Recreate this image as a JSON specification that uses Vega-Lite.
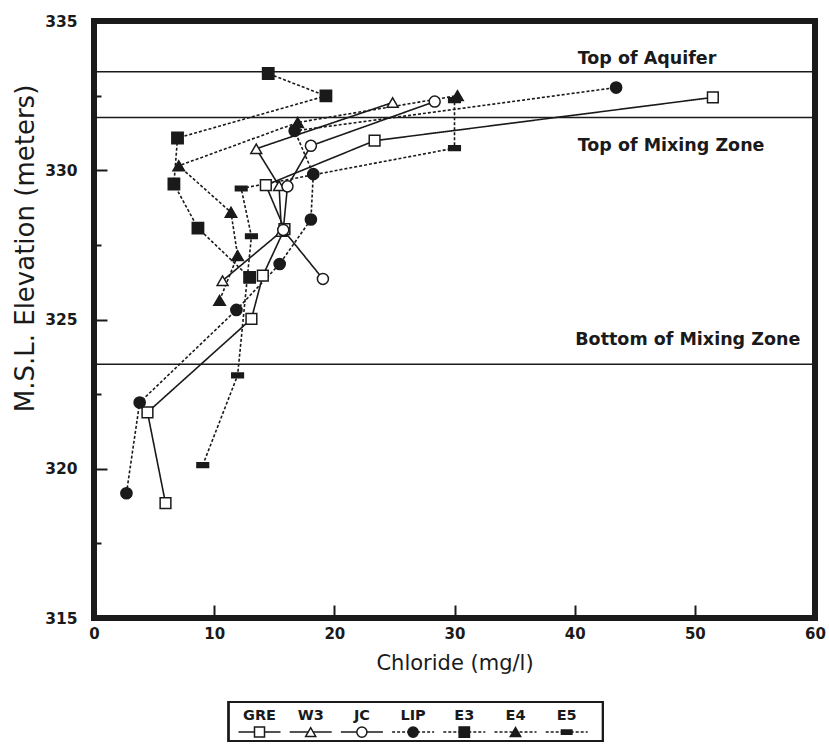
{
  "$schema": "https://vega.github.io/schema/vega-lite/v6.json",
  "background": "white",
  "padding": {"left": 9, "top": 11, "right": 5, "bottom": 2},
  "config": {"font": "DejaVu Sans", "text": {"color": "#1a1a1a"}},
  "datasets": {
    "obs": [
      {"series": "GRE", "cl": 51.5, "elev": 332.44},
      {"series": "GRE", "cl": 23.35, "elev": 330.99},
      {"series": "GRE", "cl": 14.3, "elev": 329.5},
      {"series": "GRE", "cl": 15.85, "elev": 328.03},
      {"series": "GRE", "cl": 14.05, "elev": 326.47},
      {"series": "GRE", "cl": 13.1, "elev": 325.02},
      {"series": "GRE", "cl": 4.45, "elev": 321.89},
      {"series": "GRE", "cl": 5.95, "elev": 318.85},
      {"series": "W3", "cl": 24.85, "elev": 332.27},
      {"series": "W3", "cl": 13.5, "elev": 330.72},
      {"series": "W3", "cl": 15.4, "elev": 329.48},
      {"series": "W3", "cl": 15.6, "elev": 327.95},
      {"series": "W3", "cl": 10.7, "elev": 326.3},
      {"series": "JC", "cl": 28.35, "elev": 332.3},
      {"series": "JC", "cl": 18.05, "elev": 330.82},
      {"series": "JC", "cl": 16.1, "elev": 329.46},
      {"series": "JC", "cl": 15.75, "elev": 328.0},
      {"series": "JC", "cl": 19.05, "elev": 326.36},
      {"series": "LIP", "cl": 43.45, "elev": 332.77},
      {"series": "LIP", "cl": 16.7, "elev": 331.32},
      {"series": "LIP", "cl": 18.25, "elev": 329.87},
      {"series": "LIP", "cl": 18.05, "elev": 328.35},
      {"series": "LIP", "cl": 15.45, "elev": 326.86},
      {"series": "LIP", "cl": 11.85, "elev": 325.32},
      {"series": "LIP", "cl": 3.8, "elev": 322.22},
      {"series": "LIP", "cl": 2.7, "elev": 319.18},
      {"series": "E3", "cl": 14.5, "elev": 333.24},
      {"series": "E3", "cl": 19.3, "elev": 332.49},
      {"series": "E3", "cl": 6.95, "elev": 331.08},
      {"series": "E3", "cl": 6.65, "elev": 329.54},
      {"series": "E3", "cl": 8.65, "elev": 328.06},
      {"series": "E3", "cl": 12.95, "elev": 326.41},
      {"series": "E5", "cl": 30.0, "elev": 332.35},
      {"series": "E5", "cl": 30.0, "elev": 330.74},
      {"series": "E5", "cl": 12.25, "elev": 329.39},
      {"series": "E5", "cl": 13.1, "elev": 327.79},
      {"series": "E5", "cl": 11.95, "elev": 323.13},
      {"series": "E5", "cl": 9.05, "elev": 320.12},
      {"series": "E4", "cl": 30.25, "elev": 332.5},
      {"series": "E4", "cl": 16.95, "elev": 331.6},
      {"series": "E4", "cl": 7.05, "elev": 330.15},
      {"series": "E4", "cl": 11.4, "elev": 328.59},
      {"series": "E4", "cl": 11.95, "elev": 327.14},
      {"series": "E4", "cl": 10.45, "elev": 325.64}
    ],
    "zones": [
      {"zone": "Top of Aquifer", "elev": 333.3},
      {"zone": "Top of Mixing Zone", "elev": 331.77},
      {"zone": "Bottom of Mixing Zone", "elev": 323.5}
    ],
    "notes": [
      {"note": "Top of Aquifer", "cl": 40.25, "elev": 333.73},
      {"note": "Top of Mixing Zone", "cl": 40.25, "elev": 330.81},
      {"note": "Bottom of Mixing Zone", "cl": 40.05, "elev": 324.31}
    ],
    "keys": [
      {"series": "GRE"}, {"series": "W3"}, {"series": "JC"}, {"series": "LIP"},
      {"series": "E3"}, {"series": "E4"}, {"series": "E5"}
    ]
  },
  "spacing": 81,
  "bounds": "flush",
  "resolve": {"scale": {"x": "independent", "y": "independent", "shape": "independent", "fill": "independent", "size": "independent", "strokeDash": "independent"}},
  "vconcat": [
    {
      "width": 721,
      "height": 597,
      "view": {"stroke": "#1a1a1a", "strokeWidth": 6},
      "layer": [
        {
          "data": {"name": "zones"},
          "mark": {"type": "rule", "color": "#1a1a1a", "strokeWidth": 1.5},
          "encoding": {"y": {"field": "elev", "type": "quantitative"}}
        },
        {
          "data": {"name": "obs"},
          "mark": {"type": "line", "color": "#1a1a1a", "strokeWidth": 1.6},
          "encoding": {
            "x": {"field": "cl", "type": "quantitative", "scale": {"domain": [0, 60], "nice": false, "zero": false},
              "axis": {"title": "Chloride (mg/l)", "values": [0, 10, 20, 30, 40, 50, 60], "grid": false, "domain": false, "labelFlush": false,
                "tickSize": -13, "tickWidth": 2, "tickColor": "#1a1a1a",
                "tickOpacity": {"condition": {"test": "datum.value > 0 && datum.value < 60", "value": 1}, "value": 0},
                "labelFont": "DejaVu Sans", "labelFontWeight": "bold", "labelFontSize": 15, "labelColor": "#1a1a1a", "labelPadding": 21,
                "titleFont": "DejaVu Sans", "titleFontWeight": "normal", "titleFontSize": 21, "titleColor": "#1a1a1a", "titlePadding": 11}},
            "y": {"field": "elev", "type": "quantitative", "scale": {"domain": [315, 335], "nice": false, "zero": false},
              "axis": {"title": "M.S.L. Elevation (meters)", "values": [315, 317.5, 320, 322.5, 325, 327.5, 330, 332.5, 335], "grid": false, "domain": false, "labelFlush": false,
                "labelExpr": "datum.value % 5 === 0 ? datum.label : ''",
                "tickSize": {"condition": {"test": "datum.value % 5 === 0", "value": -13}, "value": -7},
                "tickWidth": 2, "tickColor": "#1a1a1a",
                "labelFont": "DejaVu Sans", "labelFontWeight": "bold", "labelFontSize": 15.5, "labelColor": "#1a1a1a", "labelPadding": 30,
                "titleFont": "DejaVu Sans", "titleFontWeight": "normal", "titleFontSize": 26, "titleColor": "#1a1a1a", "titlePadding": 6, "titleY": 227}},
            "detail": {"field": "series"},
            "order": {"field": "elev", "type": "quantitative"},
            "strokeDash": {"field": "series", "type": "nominal", "legend": null,
              "scale": {"domain": ["GRE", "W3", "JC", "LIP", "E3", "E4", "E5"], "range": [[1, 0], [1, 0], [1, 0], [3, 2], [3, 2], [3, 2], [3, 2]]}}
          }
        },
        {
          "data": {"name": "obs"},
          "mark": {"type": "point", "filled": true, "stroke": "#1a1a1a", "strokeWidth": 1.5, "opacity": 1},
          "encoding": {
            "x": {"field": "cl", "type": "quantitative"},
            "y": {"field": "elev", "type": "quantitative"},
            "shape": {"field": "series", "type": "nominal", "legend": null,
              "scale": {"domain": ["GRE", "W3", "JC", "LIP", "E3", "E4", "E5"], "range": ["square", "triangle-up", "circle", "circle", "square", "triangle-up", "M-1,-0.4H1V0.4H-1Z"]}},
            "fill": {"field": "series", "type": "nominal", "legend": null,
              "scale": {"domain": ["GRE", "W3", "JC", "LIP", "E3", "E4", "E5"], "range": ["white", "white", "white", "#1a1a1a", "#1a1a1a", "#1a1a1a", "#1a1a1a"]}},
            "size": {"field": "series", "type": "nominal", "legend": null,
              "scale": {"domain": ["GRE", "W3", "JC", "LIP", "E3", "E4", "E5"], "range": [115, 135, 135, 200, 160, 160, 190]}}
          }
        },
        {
          "data": {"name": "notes"},
          "mark": {"type": "text", "align": "left", "baseline": "middle", "font": "DejaVu Sans", "fontWeight": "bold", "fontSize": 17.5, "color": "#1a1a1a"},
          "encoding": {
            "x": {"field": "cl", "type": "quantitative"},
            "y": {"field": "elev", "type": "quantitative"},
            "text": {"field": "note"}
          }
        }
      ]
    },
    {
      "width": 721,
      "height": 43,
      "view": {"stroke": null},
      "data": {"name": "keys"},
      "encoding": {
        "x": {"field": "series", "type": "nominal", "sort": null,
          "scale": {"type": "point", "domain": ["GRE", "W3", "JC", "LIP", "E3", "E4", "E5"], "range": [165.5, 472.7], "padding": 0}, "axis": null}
      },
      "layer": [
        {
          "mark": {"type": "rect", "filled": false, "color": "#1a1a1a", "strokeWidth": 1.5, "xOffset": -31, "x2Offset": 36},
          "encoding": {
            "x": {"datum": "GRE", "type": "nominal"},
            "x2": {"datum": "E5"},
            "y": {"datum": 1.833, "type": "quantitative", "scale": {"domain": [-0.556, 1.833]}, "axis": null},
            "y2": {"datum": -0.556}
          }
        },
        {
          "mark": {"type": "rule", "xOffset": -21, "x2Offset": 21, "strokeWidth": 1.5, "color": "#1a1a1a"},
          "encoding": {
            "x2": {"field": "series"},
            "y": {"datum": 0, "type": "quantitative"},
            "strokeDash": {"field": "series", "type": "nominal", "legend": null,
              "scale": {"domain": ["GRE", "W3", "JC", "LIP", "E3", "E4", "E5"], "range": [[1, 0], [1, 0], [1, 0], [3, 2], [3, 2], [3, 2], [3, 2]]}}
          }
        },
        {
          "mark": {"type": "point", "filled": true, "stroke": "#1a1a1a", "strokeWidth": 1.5, "opacity": 1},
          "encoding": {
            "y": {"datum": 0, "type": "quantitative"},
            "shape": {"field": "series", "type": "nominal", "legend": null,
              "scale": {"domain": ["GRE", "W3", "JC", "LIP", "E3", "E4", "E5"], "range": ["square", "triangle-up", "circle", "circle", "square", "triangle-up", "M-1,-0.4H1V0.4H-1Z"]}},
            "fill": {"field": "series", "type": "nominal", "legend": null,
              "scale": {"domain": ["GRE", "W3", "JC", "LIP", "E3", "E4", "E5"], "range": ["white", "white", "white", "#1a1a1a", "#1a1a1a", "#1a1a1a", "#1a1a1a"]}},
            "size": {"field": "series", "type": "nominal", "legend": null,
              "scale": {"domain": ["GRE", "W3", "JC", "LIP", "E3", "E4", "E5"], "range": [100, 110, 110, 150, 130, 130, 170]}}
          }
        },
        {
          "mark": {"type": "text", "font": "DejaVu Sans", "fontWeight": "bold", "fontSize": 14.5, "baseline": "middle", "color": "#1a1a1a"},
          "encoding": {
            "y": {"datum": 1, "type": "quantitative"},
            "text": {"field": "series"}
          }
        }
      ]
    }
  ]
}
